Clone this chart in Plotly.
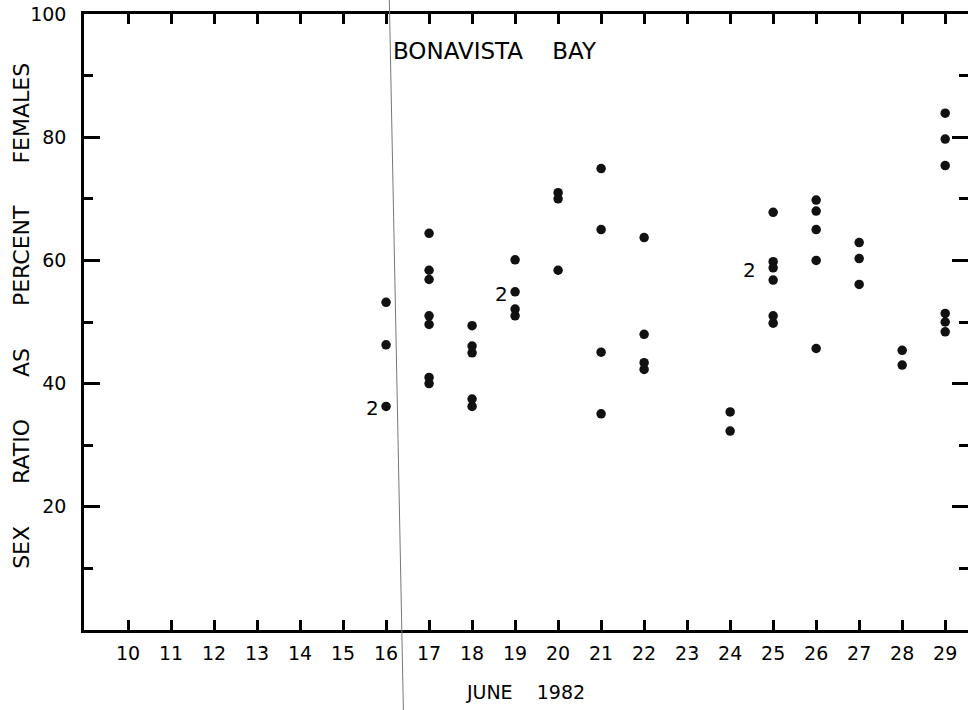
import plotly.graph_objects as go

# ---- data ----
days = [16, 16, 16,
        17, 17, 17, 17, 17, 17, 17,
        18, 18, 18, 18, 18,
        19, 19, 19, 19,
        20, 20, 20,
        21, 21, 21, 21,
        22, 22, 22, 22,
        24, 24,
        25, 25, 25, 25, 25, 25,
        26, 26, 26, 26, 26,
        27, 27, 27,
        28, 28,
        29, 29, 29, 29, 29, 29]
ratios = [53.2, 46.3, 36.3,
          64.4, 58.4, 56.9, 51.0, 49.6, 41.0, 40.0,
          49.4, 46.1, 45.0, 37.5, 36.3,
          60.1, 54.9, 52.1, 51.0,
          71.0, 70.0, 58.4,
          74.9, 65.0, 45.1, 35.1,
          63.7, 48.0, 43.4, 42.3,
          35.4, 32.3,
          67.8, 59.8, 58.8, 56.8, 51.0, 49.8,
          69.8, 68.0, 65.0, 60.0, 45.7,
          62.9, 60.3, 56.1,
          45.4, 43.0,
          83.9, 79.7, 75.4, 51.4, 50.0, 48.4]

# points marked with a count of 2
count_days = [16, 19, 25]
count_vals = [36.3, 54.9, 58.8]
count_text = ["2", "2", "2"]

x_ticks = list(range(10, 30))
x_ticklabels = [str(d) for d in x_ticks]
y_ticks = [20, 40, 60, 80, 100]
y_ticklabels = ["20", "40", "60", "80", "100"]

NB = "\u00a0"
title_text = "BONAVISTA" + NB * 4 + "BAY"
x_title = "JUNE" + NB * 4 + "1982"
y_title = (NB * 6).join(["SEX", "RATIO", "AS", "PERCENT", "FEMALES"])

FONT = "DejaVu Sans"

fig = go.Figure()
fig.add_trace(go.Scatter(
    x=days, y=ratios, mode="markers",
    marker=dict(size=9.5, color="#111111", line=dict(width=0)),
    showlegend=False, hoverinfo="x+y",
))

for d, v, t in zip(count_days, count_vals, count_text):
    fig.add_annotation(x=d, y=v, text=t, showarrow=False,
                       xshift=-14 if d != 25 else -24, yshift=-2,
                       font=dict(family=FONT, size=20, color="black"))

# title inside plot
fig.add_annotation(x=0.347, y=0.94, xref="paper", yref="paper",
                   xanchor="left", yanchor="middle", showarrow=False,
                   text=title_text,
                   font=dict(family=FONT, size=23, color="black"))

# y-axis title (placed as rotated text to sit where the reference has it)
fig.add_annotation(x=-0.0701, y=0.51, xref="paper", yref="paper",
                   xanchor="center", yanchor="middle", showarrow=False,
                   textangle=-90, text=y_title,
                   font=dict(family=FONT, size=22, color="black"))

# scan crease line
fig.add_shape(type="line", xref="paper", yref="paper",
              x0=0.3454, y0=1.0227, x1=0.3613, y1=-0.1299,
              line=dict(color="#777777", width=1))

fig.update_layout(
    width=968, height=710,
    margin=dict(l=84, r=0, t=14, b=80),
    paper_bgcolor="white", plot_bgcolor="white",
    font=dict(family=FONT, size=18, color="black"),
    xaxis=dict(
        range=[8.977, 29.53], tickvals=x_ticks, ticktext=x_ticklabels,
        ticks="inside", ticklen=10, tickwidth=2.5, tickcolor="black",
        showline=True, linewidth=2.5, linecolor="black", mirror="ticks",
        showgrid=False, zeroline=False, automargin=False,
        tickfont=dict(family=FONT, size=19), ticklabelstandoff=4,
        title=dict(text=x_title, font=dict(family=FONT, size=19), standoff=24),
    ),
    yaxis=dict(
        range=[0, 100], tickvals=y_ticks, ticktext=y_ticklabels,
        ticks="inside", ticklen=16, tickwidth=2.5, tickcolor="black",
        showline=True, linewidth=2.5, linecolor="black", mirror="allticks",
        showgrid=False, zeroline=False, automargin=False,
        minor=dict(dtick=10, tick0=0, ticks="inside", ticklen=9,
                   tickwidth=2.5, tickcolor="black", showgrid=False),
        tickfont=dict(family=FONT, size=19), ticklabelstandoff=11,
    ),
)

# the page body has a default 8px margin; remove it so the figure fills the window
fig.write_html("out.html", config={"displayModeBar": False},
               post_script="document.body.style.margin='0px';")
